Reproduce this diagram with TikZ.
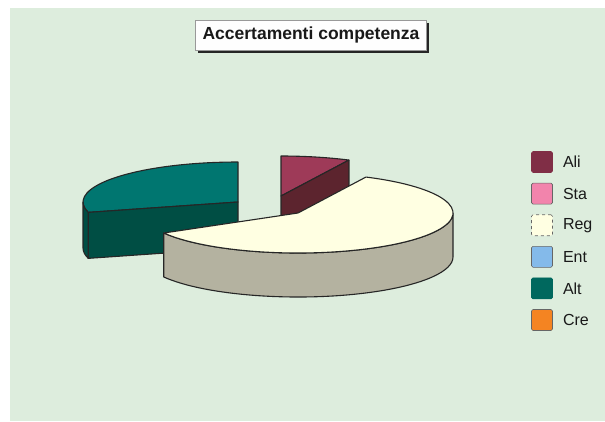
\documentclass[tikz,border=0pt]{standalone}
\usepackage{fontspec}
\setmainfont{Liberation Sans}
\usetikzlibrary{positioning,shadows}

\definecolor{paneBg}{RGB}{221,237,221}
\definecolor{aliTop}{RGB}{158,58,88}
\definecolor{aliSide}{RGB}{92,36,46}
\definecolor{aliKey}{RGB}{128,46,70}
\definecolor{staKey}{RGB}{242,132,172}
\definecolor{regTop}{RGB}{255,255,226}
\definecolor{regSide}{RGB}{180,178,160}
\definecolor{entKey}{RGB}{132,186,234}
\definecolor{altTop}{RGB}{0,118,112}
\definecolor{altSide}{RGB}{0,78,68}
\definecolor{altKey}{RGB}{0,104,94}
\definecolor{creKey}{RGB}{244,132,34}

\begin{document}
\begin{tikzpicture}[x=1pt,y=-1pt,
		pie line/.style={draw=black!85,line width=1.1pt,line join=round},
		title box/.style={draw=black!40,fill=white!97!paneBg,line width=0.6pt,
			minimum width=231pt,minimum height=30pt,inner sep=0pt,
			font=\fontsize{17.5}{19}\selectfont\bfseries,text=black!90,
			copy shadow={shadow xshift=2.5pt,shadow yshift=-2.5pt,fill=black!85,draw=none}},
		key box/.style={rectangle,rounded corners=1.5pt,draw=black!60,line width=0.6pt,
			minimum size=21pt,inner sep=0pt},
		key text/.style={font=\fontsize{16}{18}\selectfont,text=black!90,inner sep=0pt}]
	\useasboundingbox (0,0) rectangle (605,421);
	\fill[white] (0,0) rectangle (605,421);
	\fill[paneBg] (10,8) rectangle (605,421);
	%
	% Title.
	\node[title box] (title) at (311,35) {Accertamenti competenza};
	%
	% Alt slice, pulled out to the back left.
	\path[pie line,fill=altTop]
		(238,202) -- ++(-90:155 and 40)
		arc[start angle=-90,end angle=-195,x radius=155,y radius=40] -- cycle;
	\path[pie line,fill=altSide]
		(238,202) -- ++(-195:155 and 40) -- ++(0,46) -- (238,248) -- cycle;
	\path[pie line,fill=altSide]
		(238,202) ++(-180:155 and 40)
		arc[start angle=-180,end angle=-195,x radius=155,y radius=40] -- ++(0,46)
		arc[start angle=-195,end angle=-180,x radius=155,y radius=40] -- cycle;
	%
	% Ali slice, at the back.
	\path[pie line,fill=aliTop]
		(281,196) -- ++(-64:155 and 40)
		arc[start angle=-64,end angle=-90,x radius=155,y radius=40] -- cycle;
	\path[pie line,fill=aliSide]
		(281,196) -- ++(-64:155 and 40) -- ++(0,44) -- (281,240) -- cycle;
	%
	% Reg slice, in front.
	\path[pie line,fill=regSide]
		(298,213) ++(0:155 and 40)
		arc[start angle=0,end angle=150,x radius=155,y radius=40] -- ++(0,44)
		arc[start angle=150,end angle=0,x radius=155,y radius=40] -- cycle;
	\path[pie line,fill=regTop]
		(298,213) -- ++(-64:155 and 40)
		arc[start angle=-64,end angle=150,x radius=155,y radius=40] -- cycle;
	%
	% Legend.
	\node[key box,fill=aliKey,draw=aliKey] (ali box) at (542,162) {};
	\node[key box,fill=staKey] (sta box) [below=10pt of ali box] {};
	\node[key box,fill=regTop,dashed] (reg box) [below=10pt of sta box] {};
	\node[key box,fill=entKey] (ent box) [below=10pt of reg box] {};
	\node[key box,fill=altKey,draw=altKey] (alt box) [below=10pt of ent box] {};
	\node[key box,fill=creKey] (cre box) [below=10pt of alt box] {};
	\node[key text] (ali text) [right=10pt of ali box] {Ali};
	\node[key text] (sta text) [right=10pt of sta box] {Sta};
	\node[key text] (reg text) [right=10pt of reg box] {Reg};
	\node[key text] (ent text) [right=10pt of ent box] {Ent};
	\node[key text] (alt text) [right=10pt of alt box] {Alt};
	\node[key text] (cre text) [right=10pt of cre box] {Cre};
\end{tikzpicture}
\end{document}
